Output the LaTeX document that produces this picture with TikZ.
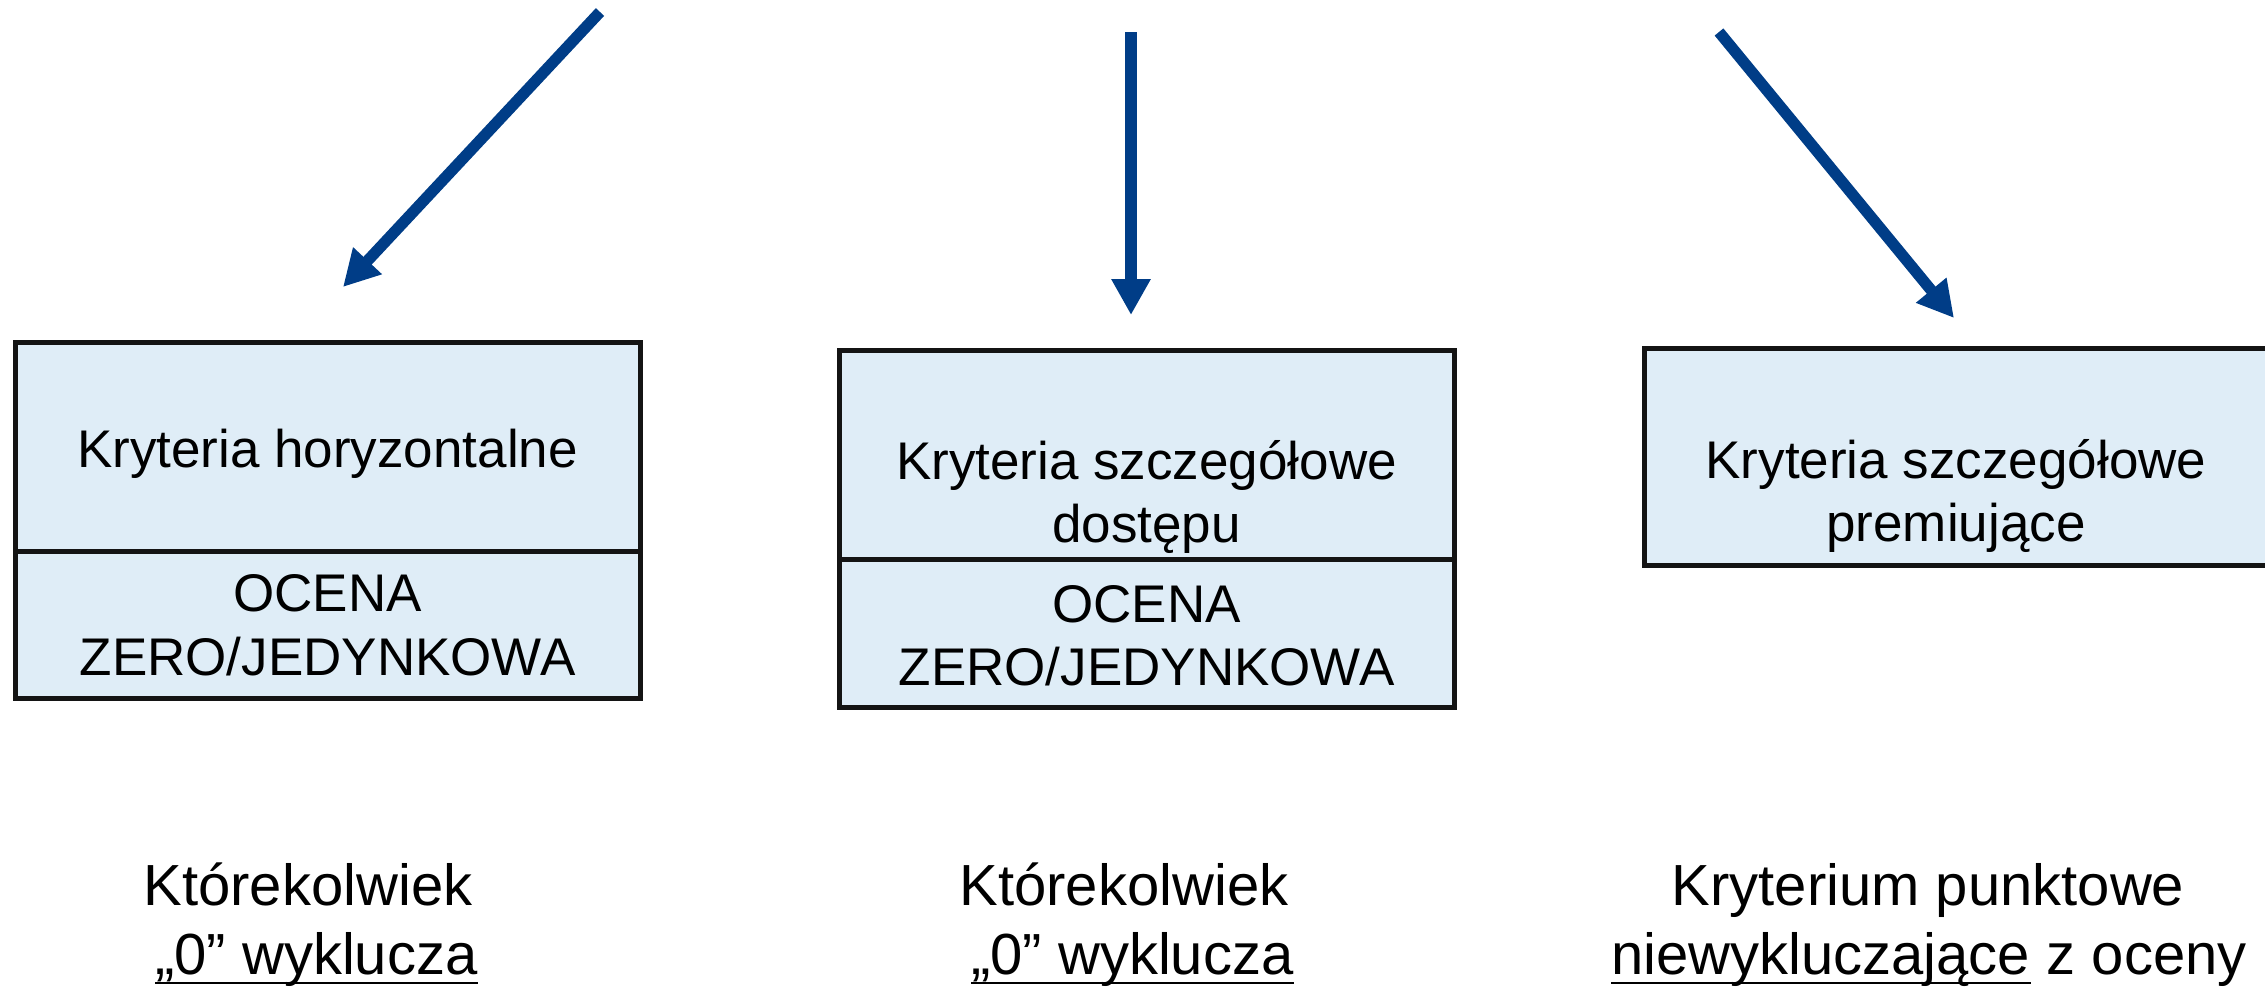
\documentclass[tikz,border=0pt]{standalone}
\usepackage{fontspec}
\setmainfont{Liberation Sans}
\usetikzlibrary{arrows.meta,calc}
\definecolor{arrowblue}{RGB}{0,61,135}
\definecolor{boxfill}{RGB}{223,237,247}
\definecolor{boxline}{RGB}{20,20,20}
\begin{document}
\begin{tikzpicture}[x=1pt,y=-1pt,
  boxpart/.style={draw=boxline, fill=boxfill, line width=5pt, rectangle, inner sep=0pt, outer sep=0pt},
  boxtxt/.style={anchor=base, inner sep=0pt, font=\fontsize{53}{63.5}\selectfont},
  bottxt/.style={anchor=base, inner sep=0pt, font=\fontsize{58}{69}\selectfont},
  botleft/.style={bottxt, anchor=base west},
  bluearrow/.style={draw=arrowblue, line width=11.3pt, -{Triangle[length=36pt,width=37pt]}},
  ulline/.style={draw=black, line width=2.5pt}]
\useasboundingbox (0,0) rectangle (2265,986);

% boxes
\node[boxpart, minimum width=625pt, minimum height=209pt] (b1u) at (327.5,446.5) {};
\node[boxpart, minimum width=625pt, minimum height=147pt] (b1l) at (327.5,624.5) {};
\node[boxpart, minimum width=615pt, minimum height=209pt] (b2u) at (1146.5,454.5) {};
\node[boxpart, minimum width=615pt, minimum height=148pt] (b2l) at (1146.5,633) {};
\node[boxpart, minimum width=624pt, minimum height=217pt] (b3) at (1956,456.5) {};

% box texts
\node[boxtxt] (t1a) at (327.5,467) {Kryteria horyzontalne};
\node[boxtxt] (t1b) at (327.5,611.5) {OCENA};
\node[boxtxt] (t1c) at (327.5,675) {ZERO/JEDYNKOWA};
\node[boxtxt] (t2a) at (1146.5,479) {Kryteria szczegółowe};
\node[boxtxt] (t2b) at (1146.5,542.5) {dostępu};
\node[boxtxt] (t2c) at (1146.5,622) {OCENA};
\node[boxtxt] (t2d) at (1146.5,685.5) {ZERO/JEDYNKOWA};
\node[boxtxt] (t3a) at (1956,478) {Kryteria szczegółowe};
\node[boxtxt] (t3b) at (1956,541.5) {premiujące};

% arrows
\coordinate (a1s) at (600,12);
\coordinate (a1e) at (343,287);
\coordinate (a2s) at (1131,32);
\coordinate (a2e) at (1131,315);
\coordinate (a3s) at (1719,32);
\coordinate (a3e) at (1954,318);
\draw[bluearrow] (a1s) -- (a1e);
\draw[bluearrow] (a2s) -- (a2e);
\draw[bluearrow] (a3s) -- (a3e);

% bottom texts
\node[bottxt] (l1) at (308,905) {Którekolwiek};
\node[botleft] (l2) at (155,974) {„0” wyklucza};
\node[bottxt] (m1) at (1124,905) {Którekolwiek};
\node[botleft] (m2) at (971,974) {„0” wyklucza};
\node[bottxt] (r1) at (1928,905) {Kryterium punktowe};
\node[botleft] (r2a) at (1611,974) {niewykluczające};
\node[botleft] (r2b) at ($(r2a.base east)+(16.1,0)$) {z oceny};

\draw[ulline] ($(l2.base west)+(0,9)$) -- ($(l2.base east)+(0,9)$);
\draw[ulline] ($(m2.base west)+(0,9)$) -- ($(m2.base east)+(0,9)$);
\draw[ulline] ($(r2a.base west)+(0,9)$) -- ($(r2a.base east)+(0,9)$);
\end{tikzpicture}
\end{document}
